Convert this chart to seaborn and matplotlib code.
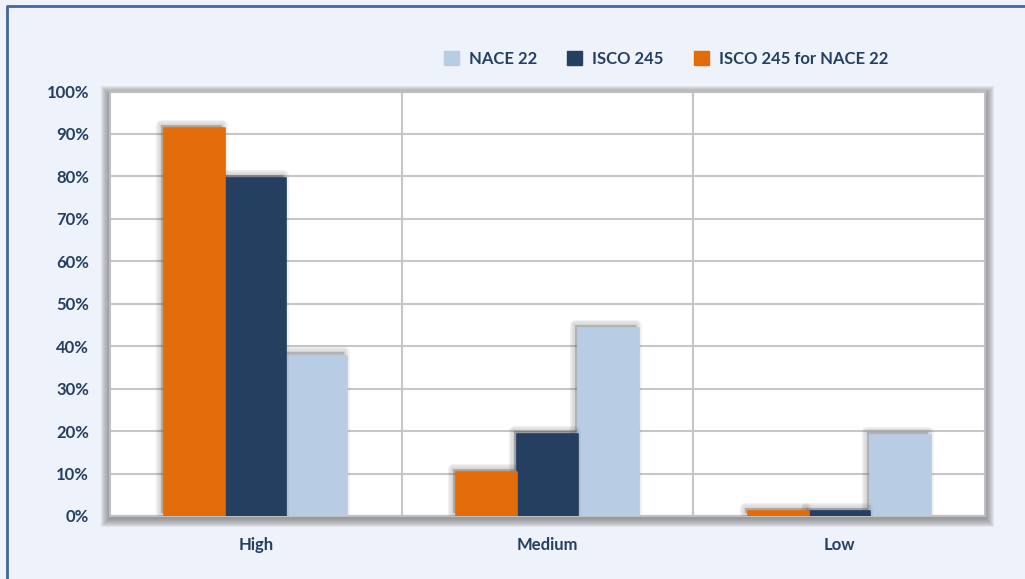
import matplotlib
matplotlib.use("Agg")
import matplotlib.pyplot as plt
import matplotlib.patheffects as pe
from matplotlib.patches import Rectangle, Patch
from matplotlib.lines import Line2D
from matplotlib.ticker import PercentFormatter, FixedLocator
import pandas as pd
import seaborn as sns

# Skill-level shares by group
levels = ["High", "Medium", "Low"]
isco_for_nace = [0.915, 0.104, 0.011]
isco_245 = [0.796, 0.194, 0.011]
nace_22 = [0.378, 0.443, 0.191]

series_order = ["ISCO 245 for NACE 22", "ISCO 245", "NACE 22"]
legend_order = ["NACE 22", "ISCO 245", "ISCO 245 for NACE 22"]
colors = {"ISCO 245 for NACE 22": "#E36C0A",
          "ISCO 245": "#243F60",
          "NACE 22": "#B8CCE4"}

df = pd.DataFrame({
    "level": levels * 3,
    "series": [s for s in series_order for _ in levels],
    "share": isco_for_nace + isco_245 + nace_22,
})

sns.set_theme(style="white")
plt.rcParams["font.family"] = ["Lato", "DejaVu Sans"]
plt.rcParams["font.weight"] = "bold"

text_color = "#243F60"
bg = "#EEF2FA"
fs = 12

W, H = 1025, 579
fig = plt.figure(figsize=(W / 100, H / 100), dpi=100, facecolor=bg)

# plot area in pixel terms
L, R, T, B = 110, 985, 91.5, 516
ax = fig.add_axes([L / W, 1 - B / H, (R - L) / W, (B - T) / H])
ax.set_facecolor("white")
ax.set_zorder(2)

# soft shadow behind the plot area
for i in range(1, 10):
    fig.patches.append(Rectangle(((L - i) / W, 1 - (B + i + 2) / H),
                                 (R - L + 2 * i) / W, (B - T + 2 * i - 1) / H,
                                 transform=fig.transFigure, facecolor="#6f6f6f",
                                 edgecolor="none", alpha=0.11, zorder=1))

# frame line on the left and top of the chart
fig.add_artist(Line2D([6.5 / W, 6.5 / W, 1], [0, 1 - 5.5 / H, 1 - 5.5 / H],
                      transform=fig.transFigure, color="#41679A", lw=2, zorder=5))

sns.barplot(data=df, x="level", y="share", hue="series", hue_order=series_order,
            order=levels, palette=colors, width=0.628, gap=0, errorbar=None,
            saturation=1, ax=ax, legend=False)

# blurred drop shadow towards the upper left of each bar
shadow = [pe.Stroke(offset=(-2.2, 2.2), linewidth=w, foreground="#404040", alpha=0.06)
          for w in (8, 6, 4, 2)]
shadow += [pe.SimplePatchShadow(offset=(-2.2, 2.2), shadow_rgbFace="#404040", alpha=0.18),
           pe.Normal()]
for k, cont in enumerate(ax.containers):
    for bar in cont:
        bar.set_zorder(3 - 0.1 * k)
        bar.set_edgecolor(bar.get_facecolor())
        bar.set_linewidth(1.2)
        bar.set_joinstyle("round")
        bar.set_path_effects(shadow)

ax.set_ylim(0, 1)
ax.set_xlim(-0.5, 2.5)
ax.yaxis.set_major_locator(FixedLocator([i / 10 for i in range(11)]))
ax.yaxis.set_major_formatter(PercentFormatter(1.0, decimals=0))
ax.xaxis.set_minor_locator(FixedLocator([0.5, 1.5]))
ax.set_axisbelow(True)
ax.grid(axis="y", which="major", color="#C6C6C6", lw=1.5)
ax.grid(axis="x", which="minor", color="#C6C6C6", lw=1.5)
ax.grid(axis="x", which="major", visible=False)
ax.tick_params(axis="both", which="both", length=0)
ax.tick_params(axis="y", pad=15, labelsize=fs, labelcolor=text_color)
ax.tick_params(axis="x", pad=15, labelsize=fs, labelcolor=text_color)
for lab in ax.get_xticklabels() + ax.get_yticklabels():
    lab.set_fontweight("bold")
ax.set_xlabel("")
ax.set_ylabel("")
for s in ax.spines.values():
    s.set_color("#BFBFBF")
    s.set_linewidth(1.5)

handles = [Patch(facecolor=colors[s], edgecolor=colors[s], label=s) for s in legend_order]
leg = fig.legend(handles=handles, ncol=3, loc="center", bbox_to_anchor=(666 / W, 1 - 59 / H),
                 frameon=False, handlelength=0.9, handleheight=0.9, handletextpad=0.6,
                 columnspacing=1.8, prop={"weight": "bold", "size": fs})
for t in leg.get_texts():
    t.set_color(text_color)

fig.savefig("out.png", dpi=100, facecolor=bg)
